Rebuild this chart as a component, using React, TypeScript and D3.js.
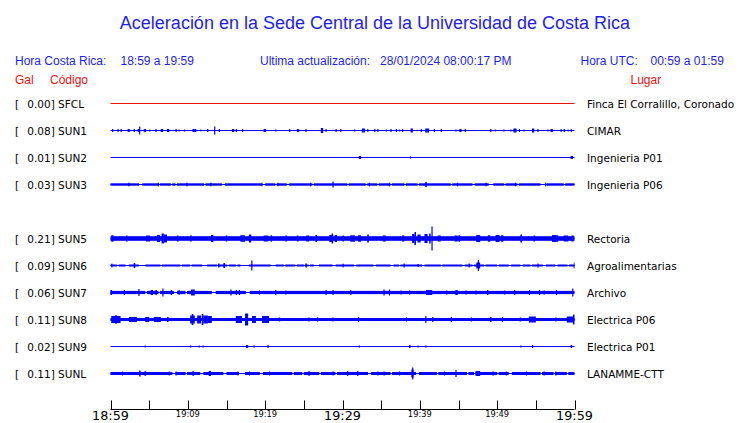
import * as d3 from 'd3';

type Spike = [number, number, number?]; // [minute, half amplitude (px), duration (min)]
type Gap = [number, number]; // [minute, duration]

const codes = ['SFCL', 'SUN1', 'SUN2', 'SUN3', 'SUN5', 'SUN6', 'SUN7', 'SUN8', 'SUN9', 'SUNL'];
const galValues = [0.0, 0.08, 0.01, 0.03, 0.21, 0.09, 0.06, 0.11, 0.02, 0.11];
const places = [
  'Finca El Corralillo, Coronado',
  'CIMAR',
  'Ingenieria P01',
  'Ingenieria P06',
  'Rectoria',
  'Agroalimentarias',
  'Archivo',
  'Electrica P06',
  'Electrica P01',
  'LANAMME-CTT',
];
// row slot of each station (SUN4 has no data, slot 4 stays empty)
const slots = [0, 1, 2, 3, 5, 6, 7, 8, 9, 10];
// continuous noise band half-width
const bandWidth = [0, 0, 0, 1.2, 2.3, 1.0, 1.6, 1.5, 0, 1.5];

const tickMinutes = [0, 5, 10, 15, 20, 25, 30, 35, 40, 45, 50, 55, 60];
const tickLabels = ['18:59', '', '19:09', '', '19:19', '', '19:29', '', '19:39', '', '19:49', '', '19:59'];
const bigLabels = ['18:59', '19:29', '19:59'];

const sfclSpikes: Spike[] = [];
const sun1Spikes: Spike[] = [
  [0.2, 1.5], [0.9, 1.5], [1.3, 1.5], [2.2, 1.5, 0.3], [3.0, 1.5], [3.5, 1.5, 0.3], [3.7, 4], [4.3, 1.5, 0.3],
  [5.0, 1], [5.8, 1.5], [6.5, 1.5, 0.3], [7.3, 1.5, 0.3], [8.4, 1.5], [8.8, 1], [9.5, 1], [10.6, 1.5, 0.5],
  [11.6, 1], [12.5, 1.5], [13.4, 4], [14.0, 1.5], [15.7, 1.5, 0.3], [16.2, 1.5], [17.0, 1.5], [19.8, 1.5, 0.3],
  [21.3, 1], [23.1, 1.5], [24.1, 1.5, 0.3], [25.2, 1.5], [27.2, 2.5, 0.3], [27.8, 1.5], [29.1, 1.5], [29.7, 1.5],
  [31.5, 1], [32.5, 2, 0.4], [33.2, 1.5], [34.1, 1.5], [34.5, 1.5], [35.6, 1], [36.2, 1.5], [36.9, 1.5],
  [37.3, 1], [37.7, 1.5], [38.8, 2, 0.3], [40.1, 1.5], [40.7, 2, 0.5], [41.8, 1.5], [42.7, 1.5], [44.6, 1],
  [45.1, 1.5, 0.3], [45.8, 1.5], [49.1, 1.5], [49.7, 1], [50.8, 1], [51.7, 1], [52.1, 2, 0.4], [52.8, 1.5],
  [53.4, 1], [54.5, 2, 0.3], [55.2, 1.5], [56.5, 1], [56.9, 1.5, 0.3], [58.2, 1.5], [58.6, 1.5], [59.1, 1], [59.5, 1.5],
];
const sun2Spikes: Spike[] = [[32.1, 1.5, 0.3], [38.7, 1], [59.5, 1.5, 0.3]];
const sun3Spikes: Spike[] = [
  [2.3, 1.8], [6.1, 1.8], [9.8, 1.8], [12.9, 1.8], [19.5, 1.8], [21.6, 1.8], [25.8, 1.8], [28.7, 3],
  [33.4, 1.8], [36.0, 1.8], [40.7, 2.5, 0.2], [44.8, 1.8], [48.5, 1.8], [52.3, 1.8], [56.2, 1.8],
];
const sun5Spikes: Spike[] = [
  [0.1, 3.2, 0.3], [2.0, 3, 0.2], [4.6, 3, 0.5], [6.0, 3.5, 0.4], [6.6, 5, 0.3], [6.9, 4, 0.4], [8.6, 3, 0.2],
  [10.3, 3, 0.2], [13.0, 3.5, 0.3], [14.9, 3, 0.2], [16.8, 3.3, 0.6], [17.9, 4, 0.3], [19.8, 3, 0.6],
  [20.7, 3.2, 0.2], [22.6, 3, 0.2], [24.1, 3, 0.2], [25.3, 3, 0.4], [26.5, 3.5, 0.2], [28.3, 3.5, 0.4],
  [28.6, 5, 0.2], [29.0, 3.5, 0.3], [30.0, 3, 0.2], [31.0, 3.2, 0.6], [32.0, 3.2, 0.4], [33.2, 4, 0.2],
  [35.2, 3, 0.4], [37.7, 3, 0.3], [39.0, 4.5, 0.3], [39.3, 6.5, 0.2], [39.7, 4, 0.4], [40.6, 4.5, 0.4],
  [41.2, 5, 0.2], [41.5, 12, 0.15], [42.3, 3, 0.4], [44.5, 3, 0.4], [45.0, 3.2, 0.2], [47.3, 3.5, 0.5],
  [48.8, 3.2, 0.3], [49.8, 3.5, 0.5], [50.5, 3.2, 0.3], [53.0, 4, 0.2], [54.7, 3, 0.2], [57.1, 3.5, 0.5],
  [57.6, 3.3, 0.3], [58.6, 3, 0.6], [59.6, 3, 0.3],
];
const sun6Spikes: Spike[] = [
  [0.1, 1.8], [3.0, 2.5, 0.2], [13.9, 2, 0.2], [14.6, 2.5, 0.2], [18.2, 5], [25.2, 2, 0.2], [30.0, 1.8],
  [37.9, 2], [39.7, 1.5], [46.3, 2], [47.3, 3, 0.5], [47.5, 5.5, 0.15], [55.2, 2], [59.9, 3, 0.15],
];
const sun7Spikes: Spike[] = [
  [0.0, 2.5, 0.2], [1.7, 2.5], [3.6, 3.5], [5.2, 2.5, 0.3], [5.8, 2.5, 0.2], [6.7, 4], [7.8, 2.5], [8.8, 2.5],
  [10.4, 3, 0.5], [15.5, 3], [16.2, 2.5], [16.6, 2.5], [19.2, 2], [21.3, 2.5], [22.6, 2], [27.8, 2.5],
  [28.7, 2.5], [31.0, 2.5], [35.3, 3], [36.0, 3], [37.5, 2], [38.6, 2], [40.8, 2.5, 0.8], [43.4, 2],
  [44.6, 2.5, 0.3], [45.9, 2], [47.2, 2], [48.7, 2.5], [50.9, 2], [52.2, 2.5], [54.1, 2.5], [55.4, 2.5],
  [56.0, 2], [57.6, 2.5], [59.7, 4],
];
const sun8Spikes: Spike[] = [
  [0.1, 3.5, 1.2], [0.6, 4.3, 0.2], [2.4, 2.5, 1.0], [4.5, 2.5, 0.5], [5.6, 2.5, 0.9], [7.3, 2.5, 0.2],
  [10.3, 4, 0.6], [10.5, 5.5, 0.2], [11.2, 4, 0.5], [11.8, 5.5, 0.2], [12.0, 4, 0.6], [12.6, 3.5, 0.5],
  [16.2, 3.5, 0.8], [17.4, 6, 0.4], [18.3, 3.5, 0.5], [19.6, 3.5, 0.9], [21.8, 2], [25.6, 2], [26.7, 2],
  [28.7, 2], [32.0, 2.5], [38.2, 2], [40.7, 3.5], [41.6, 2.5], [44.0, 2.5], [46.6, 2], [49.1, 2.5],
  [50.6, 2.5], [52.9, 2], [54.1, 3, 0.9], [57.5, 2], [59.0, 3, 0.8], [59.8, 5, 0.2],
];
const sun9Spikes: Spike[] = [
  [4.4, 1], [10.3, 1], [11.4, 1], [11.9, 1], [17.5, 1.5, 0.3], [18.5, 1], [20.3, 1.5], [32.1, 1],
  [38.6, 1.5, 0.2], [39.7, 1], [40.7, 1], [53.0, 1], [54.5, 1.5], [59.5, 1.5, 0.2],
];
const sunlSpikes: Spike[] = [
  [1.5, 2], [3.7, 3, 0.2], [4.4, 2.5], [7.5, 2], [8.4, 2], [10.6, 2.5], [12.7, 2.5, 0.3], [16.4, 2],
  [17.9, 2], [20.5, 2], [25.6, 2.5], [28.7, 2], [30.6, 2.5], [31.9, 2.5], [34.5, 2], [35.3, 2], [37.3, 2],
  [38.9, 4, 0.3], [39.0, 6, 0.15], [43.1, 2], [44.6, 3.5], [47.2, 2.5, 0.6], [49.4, 2], [51.1, 2],
  [53.7, 2], [56.0, 2], [57.5, 2],
];
const spikes = [sfclSpikes, sun1Spikes, sun2Spikes, sun3Spikes, sun5Spikes, sun6Spikes, sun7Spikes, sun8Spikes, sun9Spikes, sunlSpikes];

// quiet stretches where the band thins down to the base line
const sun3Gaps: Gap[] = [
  [3.7, 0.4], [6.2, 0.2], [7.8, 0.2], [8.4, 0.2], [12.1, 0.2], [14.4, 0.4], [19.6, 0.4], [21.3, 0.2],
  [22.8, 0.3], [26.1, 0.2], [30.6, 0.2], [33.0, 0.2], [34.5, 0.2], [36.2, 0.2], [38.0, 0.2], [39.7, 0.2],
  [44.0, 0.2], [46.8, 0.3], [48.9, 0.6], [50.9, 0.2], [52.6, 0.2], [55.6, 0.8], [58.6, 0.2],
];
const sun6Gaps: Gap[] = [
  [0.86, 0.2], [1.94, 0.43], [3.66, 0.86], [6.47, 0.2], [9.05, 0.2], [10.3, 0.2], [11.85, 0.65], [13.8, 0.2],
  [15.1, 0.2], [16.2, 0.2], [16.8, 1.1], [20.7, 0.65], [22.4, 0.2], [23.9, 0.2], [25.0, 0.2], [25.6, 0.2],
  [26.3, 0.65], [28.7, 0.43], [31.5, 0.3], [34.0, 0.3], [36.2, 0.4], [37.3, 0.2], [40.3, 0.3], [42.7, 0.2],
  [45.5, 0.3], [46.8, 0.2], [48.3, 0.2], [50.0, 0.2], [51.5, 0.3], [53.0, 0.3], [54.3, 0.2], [55.9, 0.4],
  [57.5, 0.3], [59.1, 0.2],
];
const sun7Gaps: Gap[] = [[4.5, 0.2], [6.2, 0.2], [8.2, 0.4], [9.7, 0.2], [13.1, 0.5], [17.5, 0.5]];
const sunlGaps: Gap[] = [
  [8.0, 0.4], [9.7, 0.2], [11.6, 0.4], [14.6, 0.4], [16.6, 0.8], [19.3, 0.4], [23.5, 0.2], [24.8, 0.2],
  [27.0, 0.2], [29.1, 0.2], [33.3, 0.4], [36.2, 0.2], [39.5, 0.4], [42.2, 0.2], [46.1, 0.2], [47.0, 0.2],
  [50.0, 0.2], [51.5, 0.4], [55.6, 0.2], [57.3, 0.2], [59.0, 0.2],
];
const gaps: Gap[][] = [[], [], [], sun3Gaps, [], sun6Gaps, sun7Gaps, [], [], sunlGaps];

const BLUE = '#0000ff';
const TEXT_BLUE = '#1e1eec';
const RED = '#ee1111';
const SANS = '"Liberation Sans", Arial, sans-serif';
const DEJAVU = '"DejaVu Sans", sans-serif';

function bandSegments(g: Gap[]): [number, number][] {
  const segs: [number, number][] = [];
  let start = 0;
  g.forEach(([t, d]) => {
    if (t > start) segs.push([start, t]);
    start = t + d;
  });
  if (start < 60) segs.push([start, 60]);
  return segs;
}

export default function App() {
  const width = 740;
  const height = 423;
  const x = d3.scaleLinear().domain([0, 60]).range([110.5, 574.5]);
  const y = d3.scaleLinear().domain([0, 10]).range([103.5, 373.5]);
  const axisY = 409.5;

  return (
    <svg width={width} height={height} style={{ position: 'absolute', left: 0, top: 0, background: '#fff' }}>
      <text x={375} y={29} textAnchor="middle" fill={TEXT_BLUE} fontFamily={SANS} fontSize={18}>
        Aceleración en la Sede Central de la Universidad de Costa Rica
      </text>

      <g fill={TEXT_BLUE} fontFamily={SANS} fontSize={12}>
        <text x={15} y={65}>Hora Costa Rica:</text>
        <text x={120.5} y={65}>18:59 a 19:59</text>
        <text x={260} y={65}>Ultima actualización:</text>
        <text x={380} y={65}>28/01/2024 08:00:17 PM</text>
        <text x={580.5} y={65}>Hora UTC:</text>
        <text x={650.5} y={65}>00:59 a 01:59</text>
      </g>
      <g fill={RED} fontFamily={SANS} fontSize={12}>
        <text x={15} y={84}>Gal</text>
        <text x={50} y={84}>Código</text>
        <text x={630.5} y={84}>Lugar</text>
      </g>

      {codes.map((code, i) => {
        const cy = y(slots[i]);
        const color = i === 0 ? RED : BLUE;
        const bw = bandWidth[i];
        return (
          <g key={code}>
            <text x={15} y={cy + 4} fontFamily={DEJAVU} fontSize={10.5} fill="#000">[</text>
            <text x={27.3} y={cy + 4} fontFamily={DEJAVU} fontSize={10.5} fill="#000">
              {`${galValues[i].toFixed(2)}] ${code}`}
            </text>
            <text x={587} y={cy + 4} fontFamily={DEJAVU} fontSize={10.5} fill="#000">{places[i]}</text>
            <line x1={x(0)} x2={x(60)} y1={cy} y2={cy} stroke={color} strokeWidth={1} />
            {bw > 0 &&
              bandSegments(gaps[i]).map(([a, b], k) => (
                <rect key={k} x={x(a)} y={cy - bw} width={x(b) - x(a)} height={bw * 2} fill={color} />
              ))}
            {spikes[i].map(([t, amp, dur], k) => {
              const x0 = x(t);
              const w = Math.max(1.2, x(t + (dur ?? 0.15)) - x0);
              return <rect key={k} x={x0} y={cy - amp} width={Math.min(w, x(60) - x0)} height={amp * 2} fill={color} />;
            })}
          </g>
        );
      })}

      <g>
        <line x1={x(0)} x2={x(60)} y1={axisY} y2={axisY} stroke="#000" />
        {tickMinutes.map((m, i) => (
          <g key={m}>
            <line x1={Math.round(x(m)) + 0.5} x2={Math.round(x(m)) + 0.5} y1={axisY - 9} y2={axisY} stroke="#000" />
            {tickLabels[i] && (
              <text
                x={x(m)}
                y={bigLabels.includes(tickLabels[i]) ? 420 : 417}
                textAnchor="middle"
                fontFamily={DEJAVU}
                fontSize={bigLabels.includes(tickLabels[i]) ? 12.8 : 8.3}
                fill="#000"
              >
                {tickLabels[i]}
              </text>
            )}
          </g>
        ))}
      </g>
    </svg>
  );
}
